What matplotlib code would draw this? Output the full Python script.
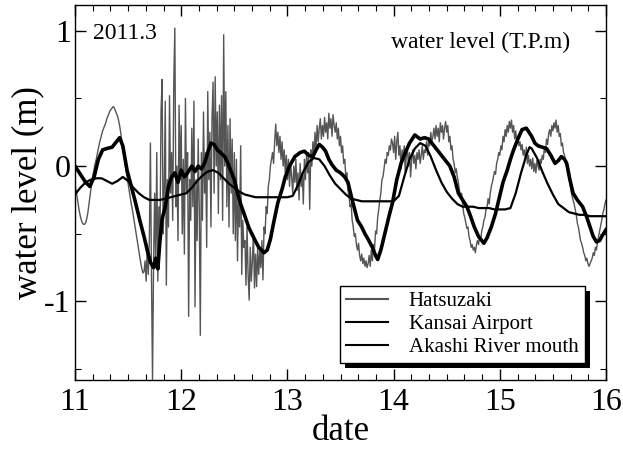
import numpy as np
import matplotlib
matplotlib.use('Agg')
import matplotlib.pyplot as plt
import matplotlib.ticker as mtick
from matplotlib.lines import Line2D
from matplotlib.patches import Rectangle

plt.rcParams['font.family'] = 'Liberation Serif'
plt.rcParams['axes.unicode_minus'] = False

# Hatsuzaki : one value every 0.01 day from 11.00 to 16.00 (m)
hatsuzaki_date = np.round(np.arange(1100, 1601) / 100, 2)
hatsuzaki_level = [
    -0.14, -0.18, -0.23, -0.28, -0.33, -0.37, -0.40, -0.42, -0.43, -0.43,
    -0.42, -0.39, -0.35, -0.29, -0.23, -0.17, -0.11, -0.06, -0.02, 0.02,
    0.05, 0.09, 0.13, 0.17, 0.20, 0.23, 0.26, 0.28, 0.30, 0.32,
    0.35, 0.37, 0.39, 0.41, 0.42, 0.43, 0.44, 0.43, 0.41, 0.39,
    0.37, 0.34, 0.30, 0.25, 0.19, 0.13, 0.08, 0.03, -0.03, -0.08,
    -0.13, -0.18, -0.23, -0.28, -0.32, -0.37, -0.42, -0.47, -0.52, -0.57,
    -0.62, -0.67, -0.72, -0.76, -0.79, -0.78, -0.70, -0.85, -0.60, -0.80,
    -0.55, 0.17, -0.80, -1.58, -0.70, -0.20, -0.75, 0.10, -0.85, -0.30,
    -0.60, 0.40, 0.64, -0.50, -0.20, 0.48, -0.88, -0.10, -0.45, 0.52,
    -0.20, 0.10, -0.40, 0.60, 1.02, -0.30, 0.00, -0.55, 0.45, -0.10,
    0.30, -0.50, 0.05, -0.65, 0.50, -0.20, 0.10, -1.11, -0.10, -0.40,
    0.28, -0.30, 0.48, -1.04, -0.10, -0.55, 0.20, -0.30, -1.25, 0.10,
    -0.40, 0.40, -0.20, 0.10, -0.60, 0.55, -0.10, 0.25, -0.45, 0.35,
    0.62, -0.20, 0.66, 0.00, 0.40, -0.35, 0.45, -0.10, 0.52, -0.40,
    0.97, 0.00, 0.55, -0.30, 0.30, -0.45, 0.35, -0.20, 0.20, -0.50,
    0.10, -0.55, 0.05, -0.70, -0.20, -0.45, 0.15, -0.80, -0.40, -0.60,
    -0.55, -0.88, -0.45, -0.80, -0.99, -0.60, -0.85, -0.70, -0.50, -0.90,
    -0.65, -0.89, -0.60, -0.80, -0.62, -0.75, -0.55, -0.84, -0.45, -0.50,
    -0.30, -0.35, -0.15, -0.10, 0.00, 0.05, 0.10, 0.02, 0.18, 0.31,
    0.15, 0.25, 0.10, 0.22, 0.05, 0.18, 0.00, 0.12, -0.05, 0.08,
    -0.10, 0.05, -0.15, 0.02, -0.08, -0.20, 0.00, -0.12, 0.05, -0.18,
    -0.05, -0.25, 0.02, -0.15, -0.05, -0.28, 0.05, -0.10, 0.08, -0.05,
    0.10, -0.32, 0.12, 0.00, 0.18, 0.08, 0.25, 0.12, 0.30, 0.18,
    0.28, 0.35, 0.20, 0.30, 0.22, 0.36, 0.25, 0.32, 0.20, 0.39,
    0.28, 0.35, 0.22, 0.38, 0.30, 0.25, 0.32, 0.20, 0.28, 0.15,
    0.22, 0.10, 0.15, 0.02, 0.05, -0.08, -0.05, -0.18, -0.22, -0.30,
    -0.28, -0.40, -0.45, -0.52, -0.50, -0.58, -0.62, -0.57, -0.66, -0.70,
    -0.65, -0.72, -0.68, -0.74, -0.70, -0.75, -0.72, -0.66, -0.74, -0.62,
    -0.70, -0.58, -0.62, -0.48, -0.50, -0.38, -0.32, -0.25, -0.20, -0.10,
    -0.08, -0.02, 0.05, 0.02, 0.10, 0.08, 0.15, 0.12, 0.20, 0.17,
    0.10, 0.22, 0.05, 0.18, 0.25, 0.08, 0.15, -0.02, 0.12, 0.05,
    0.15, -0.05, 0.08, 0.12, 0.00, 0.10, -0.08, 0.05, 0.12, 0.02,
    0.08, -0.02, 0.10, 0.05, 0.12, 0.02, 0.08, 0.15, 0.05, 0.12,
    0.10, 0.18, 0.08, 0.20, 0.15, 0.25, 0.18, 0.22, 0.28, 0.20,
    0.30, 0.22, 0.28, 0.18, 0.32, 0.25, 0.30, 0.20, 0.28, 0.33,
    0.25, 0.30, 0.18, 0.22, 0.12, 0.15, 0.05, 0.02, -0.05, -0.02,
    -0.08, -0.12, -0.18, -0.22, -0.20, -0.28, -0.35, -0.38, -0.42, -0.46,
    -0.45, -0.52, -0.55, -0.60, -0.58, -0.62, -0.60, -0.64, -0.58, -0.55,
    -0.58, -0.52, -0.54, -0.48, -0.45, -0.40, -0.38, -0.32, -0.30, -0.24,
    -0.28, -0.20, -0.15, -0.12, -0.08, -0.04, -0.06, 0.02, 0.05, 0.10,
    0.08, 0.15, 0.12, 0.22, 0.18, 0.27, 0.22, 0.30, 0.25, 0.33,
    0.28, 0.34, 0.25, 0.30, 0.20, 0.26, 0.18, 0.22, 0.15, 0.18,
    0.12, 0.16, 0.08, 0.12, 0.05, 0.14, 0.02, 0.08, 0.00, 0.05,
    -0.02, 0.06, -0.04, 0.02, -0.05, 0.04, 0.00, -0.03, 0.05, 0.02,
    0.08, 0.05, 0.14, 0.10, 0.20, 0.16, 0.24, 0.27, 0.22, 0.30,
    0.26, 0.32, 0.28, 0.34, 0.25, 0.30, 0.22, 0.24, 0.15, 0.17,
    0.10, 0.08, 0.02, 0.00, -0.05, -0.08, -0.12, -0.18, -0.22, -0.25,
    -0.28, -0.32, -0.36, -0.42, -0.45, -0.50, -0.55, -0.57, -0.60, -0.64,
    -0.66, -0.70, -0.68, -0.72, -0.74, -0.72, -0.70, -0.68, -0.64, -0.66,
    -0.60, -0.62, -0.56, -0.52, -0.48, -0.44, -0.40, -0.35, -0.32, -0.28,
    -0.25,
]

# Kansai Airport
kansai_date = [
    11.00, 11.05, 11.10, 11.14, 11.18, 11.22, 11.26, 11.30, 11.35, 11.39,
    11.42, 11.45, 11.49, 11.53, 11.57, 11.61, 11.65, 11.68, 11.71, 11.74,
    11.76, 11.78, 11.80, 11.82, 11.85, 11.88, 11.91, 11.94, 11.97, 12.00,
    12.03, 12.06, 12.10, 12.13, 12.16, 12.19, 12.22, 12.25, 12.28, 12.31,
    12.34, 12.37, 12.41, 12.44, 12.47, 12.50, 12.53, 12.56, 12.60, 12.64,
    12.69, 12.73, 12.78, 12.81, 12.84, 12.87, 12.91, 12.95, 12.98, 13.02,
    13.07, 13.12, 13.16, 13.20, 13.24, 13.27, 13.30, 13.33, 13.36, 13.39,
    13.42, 13.46, 13.50, 13.54, 13.57, 13.61, 13.66, 13.70, 13.73, 13.76,
    13.80, 13.83, 13.85, 13.88, 13.92, 13.96, 13.99, 14.03, 14.07, 14.11,
    14.15, 14.20, 14.25, 14.29, 14.33, 14.38, 14.43, 14.48, 14.53, 14.57,
    14.61, 14.65, 14.69, 14.72, 14.76, 14.80, 14.85, 14.88, 14.92, 14.96,
    14.99, 15.03, 15.07, 15.10, 15.13, 15.17, 15.21, 15.25, 15.30, 15.33,
    15.36, 15.40, 15.44, 15.48, 15.52, 15.55, 15.58, 15.61, 15.63, 15.66,
    15.69, 15.73, 15.78, 15.82, 15.85, 15.88, 15.91, 15.94, 15.96, 16.00,
]
kansai_level = [
    0.00, -0.06, -0.12, -0.15, -0.08, 0.05, 0.12, 0.13, 0.14, 0.18,
    0.21, 0.15, -0.03, -0.15, -0.27, -0.40, -0.52, -0.62, -0.71, -0.75,
    -0.68, -0.76, -0.55, -0.39, -0.30, -0.15, -0.08, -0.05, -0.12, -0.03,
    -0.08, -0.05, 0.00, -0.04, 0.00, -0.02, 0.02, 0.10, 0.17, 0.16,
    0.12, 0.10, 0.07, 0.02, -0.04, -0.10, -0.20, -0.28, -0.37, -0.46,
    -0.54, -0.60, -0.64, -0.62, -0.54, -0.42, -0.27, -0.17, -0.08, 0.00,
    0.07, 0.10, 0.11, 0.08, 0.07, 0.12, 0.16, 0.14, 0.11, 0.05,
    0.01, -0.03, -0.05, -0.08, -0.12, -0.25, -0.40, -0.45, -0.50, -0.54,
    -0.60, -0.66, -0.69, -0.62, -0.49, -0.36, -0.27, -0.10, 0.02, 0.10,
    0.17, 0.23, 0.20, 0.21, 0.20, 0.15, 0.10, 0.05, 0.00, -0.08,
    -0.20, -0.25, -0.30, -0.36, -0.45, -0.52, -0.57, -0.53, -0.45, -0.35,
    -0.25, -0.12, -0.03, 0.05, 0.12, 0.20, 0.27, 0.28, 0.22, 0.17,
    0.15, 0.14, 0.13, 0.08, 0.02, 0.04, 0.07, 0.05, 0.02, -0.10,
    -0.20, -0.25, -0.30, -0.38, -0.45, -0.52, -0.56, -0.55, -0.52, -0.47,
]

# Akashi River mouth
akashi_date = [
    11.00, 11.05, 11.10, 11.15, 11.20, 11.25, 11.30, 11.35, 11.40, 11.45,
    11.50, 11.55, 11.60, 11.65, 11.70, 11.75, 11.80, 11.85, 11.90, 11.95,
    12.00, 12.05, 12.10, 12.15, 12.20, 12.25, 12.30, 12.35, 12.40, 12.45,
    12.50, 12.55, 12.60, 12.65, 12.70, 12.75, 12.80, 12.85, 12.90, 12.95,
    13.00, 13.05, 13.10, 13.15, 13.20, 13.25, 13.30, 13.35, 13.40, 13.45,
    13.50, 13.55, 13.60, 13.65, 13.70, 13.75, 13.80, 13.85, 13.90, 13.95,
    14.00, 14.05, 14.10, 14.15, 14.20, 14.25, 14.30, 14.35, 14.40, 14.45,
    14.50, 14.55, 14.60, 14.65, 14.70, 14.75, 14.80, 14.85, 14.90, 14.95,
    15.00, 15.05, 15.10, 15.15, 15.20, 15.25, 15.28, 15.30, 15.35, 15.40,
    15.45, 15.50, 15.55, 15.60, 15.65, 15.70, 15.75, 15.80, 15.85, 15.90,
    15.95, 16.00,
]
akashi_level = [
    -0.21, -0.16, -0.12, -0.10, -0.09, -0.09, -0.11, -0.13, -0.11, -0.08,
    -0.11, -0.16, -0.20, -0.23, -0.25, -0.25, -0.25, -0.24, -0.23, -0.22,
    -0.21, -0.20, -0.16, -0.11, -0.07, -0.04, -0.03, -0.05, -0.09, -0.13,
    -0.16, -0.19, -0.21, -0.22, -0.23, -0.23, -0.23, -0.23, -0.23, -0.23,
    -0.23, -0.22, -0.14, -0.04, 0.03, 0.06, 0.05, 0.00, -0.07, -0.13,
    -0.17, -0.21, -0.24, -0.25, -0.26, -0.26, -0.26, -0.26, -0.26, -0.26,
    -0.26, -0.22, -0.08, 0.05, 0.13, 0.17, 0.15, 0.07, -0.03, -0.12,
    -0.19, -0.24, -0.28, -0.30, -0.30, -0.30, -0.31, -0.31, -0.31, -0.32,
    -0.32, -0.32, -0.31, -0.20, -0.05, 0.08, 0.14, 0.13, 0.06, -0.04,
    -0.13, -0.21, -0.28, -0.31, -0.34, -0.35, -0.36, -0.36, -0.37, -0.37,
    -0.37, -0.37,
]

series_names = ['Hatsuzaki', 'Kansai Airport', 'Akashi River mouth']
gray = '#555555'

fig = plt.figure(figsize=(6.23, 4.5), dpi=100)
ax = fig.add_axes([75/623, 1-380/450, 531/623, 375/450])

ax.plot(hatsuzaki_date, hatsuzaki_level, color=gray, lw=1.0)
ax.plot(akashi_date, akashi_level, color='k', lw=1.6)
ax.plot(kansai_date, kansai_level, color='k', lw=2.6)

ax.set_xlim(11, 16)
ax.set_ylim(-1.58, 1.19)
ax.xaxis.set_major_locator(mtick.MultipleLocator(1))
ax.xaxis.set_minor_locator(mtick.MultipleLocator(1/6))
ax.yaxis.set_major_locator(mtick.MultipleLocator(1))
ax.yaxis.set_minor_locator(mtick.MultipleLocator(0.5))
ax.xaxis.set_major_formatter(mtick.FormatStrFormatter('%d'))
ax.yaxis.set_major_formatter(mtick.FormatStrFormatter('%d'))
ax.tick_params(which='both', direction='in', top=True, right=True, labelsize=23)
ax.tick_params(which='major', length=8, width=1)
ax.tick_params(which='minor', length=4, width=0.8)
ax.tick_params(axis='x', which='major', pad=6)
ax.tick_params(axis='y', which='major', pad=3)
for s in ax.spines.values():
    s.set_linewidth(1.0)

ax.set_xlabel('date', fontsize=25, labelpad=-2)
ax.set_ylabel('water level (m)', fontsize=25, labelpad=0)

ax.text(0.034, 0.925, '2011.3', transform=ax.transAxes, fontsize=17, va='center', ha='left')
ax.text(0.932, 0.899, 'water level (T.P.m)', transform=ax.transAxes, fontsize=17, va='center', ha='right')

handles = [Line2D([], [], color=gray, lw=1.5),
           Line2D([], [], color='k', lw=1.5),
           Line2D([], [], color='k', lw=1.5)]
leg = ax.legend(handles, series_names, loc='lower right', bbox_to_anchor=(0.96, 0.045),
                fontsize=15, fancybox=False, edgecolor='k', framealpha=1, borderaxespad=0,
                handlelength=2.0, handletextpad=1.0, labelspacing=0.15, borderpad=0.3)
leg.get_frame().set_linewidth(1.0)

# solid black drop shadow behind the legend box
fig.canvas.draw()
bb = leg.get_window_extent()
inv = ax.transAxes.inverted()
(x0, y0), (x1, y1) = inv.transform([[bb.x0 + 5, bb.y0 - 5], [bb.x1 + 5, bb.y1 - 5]])
ax.add_patch(Rectangle((x0, y0), x1 - x0, y1 - y0, transform=ax.transAxes,
                       facecolor='k', edgecolor='none', zorder=4.5, clip_on=False))

fig.savefig('out.png', dpi=100)
